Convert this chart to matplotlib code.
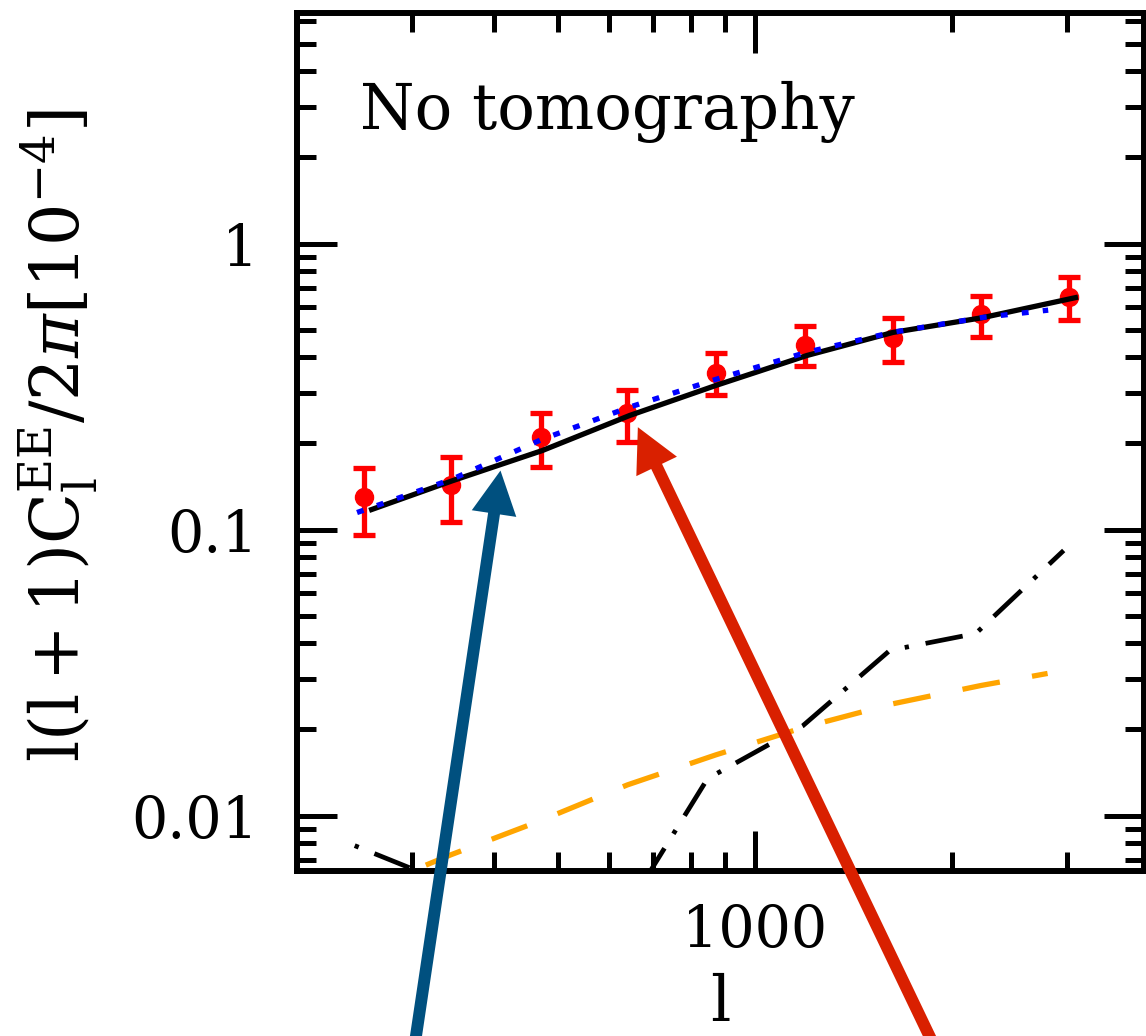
import numpy as np
import matplotlib.pyplot as plt
from matplotlib.ticker import FuncFormatter, NullFormatter

# measured band powers with errors
ell = [253, 344, 471, 639, 872, 1193, 1626, 2216, 3021]
cl_obs = [0.130, 0.143, 0.210, 0.255, 0.354, 0.443, 0.466, 0.565, 0.653]
cl_err = [0.034, 0.037, 0.045, 0.052, 0.059, 0.071, 0.082, 0.092, 0.112]

# model curves
ell_model = [260, 345, 474, 644, 872, 1201, 1626, 2230, 3088]
cl_model = [0.1175, 0.148, 0.189, 0.2505, 0.319, 0.406, 0.489, 0.551, 0.647]

ell_fit = [247, 345, 474, 644, 872, 1201, 1626, 2230, 2806]
cl_fit = [0.1147, 0.150, 0.207, 0.268, 0.335, 0.417, 0.490, 0.552, 0.585]

ell_dd = [245, 340, 465, 630, 847, 1184, 1608, 2175, 2963]
cl_dd = [0.00785, 0.0058, 0.0042, 0.0045, 0.01346, 0.0206, 0.0378, 0.0433, 0.0845]

ell_or = [250, 344, 471, 639, 872, 1193, 1626, 2216, 2800]
cl_or = [0.0054, 0.0073, 0.0096, 0.0128, 0.0163, 0.0204, 0.0246, 0.0285, 0.0314]

# arrow targets (data) and tails (figure pixels, below the frame)
blue_tip = (409, 0.1608)
blue_tail = (413, -20)
red_tip = (663, 0.228)
red_tail = (939, -20)

plt.rcParams['font.family'] = ['DejaVu Serif']
plt.rcParams['mathtext.fontset'] = 'dejavuserif'

W, H = 1146, 1036
fig = plt.figure(figsize=(W / 100, H / 100), dpi=100)
ax = fig.add_axes([297 / W, 165 / H, (1144 - 297) / W, (1023 - 165) / H])

ax.errorbar(ell, cl_obs, yerr=cl_err, fmt='o', color='red', ms=13,
            elinewidth=3.8, capsize=7.9, capthick=3.8, zorder=2)
ax.plot(ell_model, cl_model, color='black', lw=3.8, zorder=3)
ax.plot(ell_fit, cl_fit, color='blue', lw=3.8, ls=(0, (1.3, 2.7)), zorder=3)
ax.plot(ell_dd, cl_dd, color='black', lw=3.4, ls=(11.6, (8, 3.6, 0.9, 3.6)), zorder=3)
ax.plot(ell_or, cl_or, color='orange', lw=3.8, ls=(0, (7.2, 6.2)), zorder=3)

ax.set_xscale('log')
ax.set_yscale('log')
ax.set_xlim(200, 3930)
ax.set_ylim(0.0064, 6.4)

fmt = FuncFormatter(lambda v, p: '%g' % v)
ax.xaxis.set_major_formatter(fmt)
ax.yaxis.set_major_formatter(fmt)
ax.xaxis.set_minor_formatter(NullFormatter())
ax.yaxis.set_minor_formatter(NullFormatter())

ax.tick_params(which='both', direction='in', top=True, right=True, width=3.6)
ax.tick_params(which='major', length=29, labelsize=41)
ax.tick_params(which='minor', length=14)
ax.tick_params(axis='x', which='major', pad=23)
ax.tick_params(axis='y', which='major', pad=28)
for s in ax.spines.values():
    s.set_linewidth(4.3)

ax.text(0.0744, 0.865, 'No tomography', transform=ax.transAxes,
        fontsize=45, va='baseline')

fig.text(720.5 / W, 2 / H, 'l', fontsize=46, ha='center', va='bottom')
fig.text(58 / W, 1 - 436 / H,
         r'$\mathrm{l(l+1)C_l^{EE}/2}\pi\mathrm{[10^{-4}]}$',
         rotation=90, fontsize=48, ha='center', va='center')

style = 'simple,head_length=3.13,head_width=3.24,tail_width=0.86'
for tip, tail, col in [(blue_tip, blue_tail, '#00507f'),
                       (red_tip, red_tail, '#d92000')]:
    ax.annotate('', xy=tip, xycoords='data', xytext=tail,
                textcoords='figure pixels', annotation_clip=False,
                arrowprops=dict(arrowstyle=style, mutation_scale=10,
                                color=col, lw=0, shrinkA=0, shrinkB=0),
                zorder=5)

fig.savefig('out.png', dpi=100)
